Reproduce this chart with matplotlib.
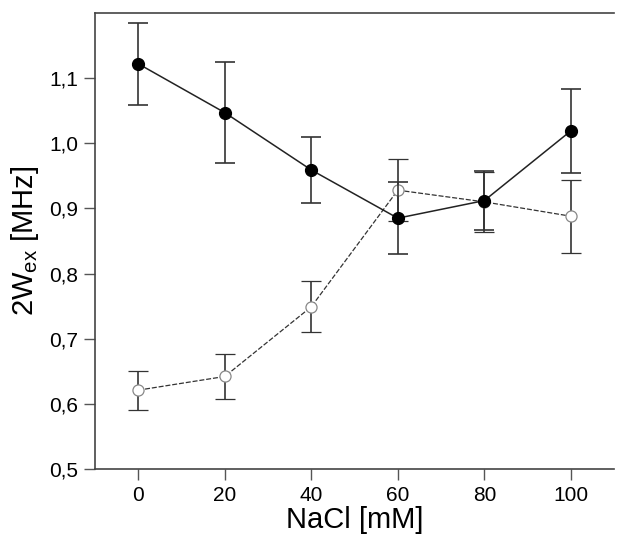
import matplotlib
matplotlib.use("Agg")
import matplotlib.pyplot as plt

plt.rcParams['font.family'] = ['Liberation Sans', 'DejaVu Sans']

nacl = [0, 20, 40, 60, 80, 100]
filled_y = [1.122, 1.047, 0.959, 0.885, 0.912, 1.019]
filled_err = [0.063, 0.078, 0.050, 0.055, 0.045, 0.065]
open_y = [0.621, 0.642, 0.749, 0.928, 0.910, 0.888]
open_err = [0.030, 0.035, 0.039, 0.048, 0.046, 0.056]

xticks = [0, 20, 40, 60, 80, 100]
yticks = [0.5, 0.6, 0.7, 0.8, 0.9, 1.0, 1.1]
ytick_labels = ['0,5', '0,6', '0,7', '0,8', '0,9', '1,0', '1,1']

fig = plt.figure(figsize=(6.18, 5.40), dpi=100)
ax = fig.add_axes([0.1537, 0.1315, 0.84, 0.8445])

ax.errorbar(nacl, open_y, yerr=open_err, fmt='o', color='#333333', ls=(0, (4, 1.5)), lw=0.9,
            mfc='white', mec='#888888', mew=0.9, ms=8, capsize=7.5, elinewidth=1.2,
            ecolor='#333333', capthick=1.2, zorder=2)
ax.errorbar(nacl, filled_y, yerr=filled_err, fmt='o-', color='#222222', lw=1.1,
            mfc='black', mec='black', ms=8.5, capsize=7.5, elinewidth=1.2,
            ecolor='#333333', capthick=1.2, zorder=3)

ax.set_xlim(-10, 110)
ax.set_ylim(0.5, 1.2)
ax.set_xticks(xticks)
ax.set_yticks(yticks)
ax.set_yticklabels(ytick_labels)
ax.tick_params(axis='both', direction='out', length=8, width=1, color='#555555',
               labelsize=15, pad=4)
for s in ['left', 'bottom', 'top']:
    ax.spines[s].set_color('#444444')
    ax.spines[s].set_linewidth(1.2)
ax.spines['right'].set_visible(False)

ax.set_xlabel('NaCl [mM]', fontsize=21, labelpad=1)
ax.set_ylabel('2W$_\\mathregular{ex}$ [MHz]', fontsize=21, labelpad=6)

fig.savefig('out.png', dpi=100)
